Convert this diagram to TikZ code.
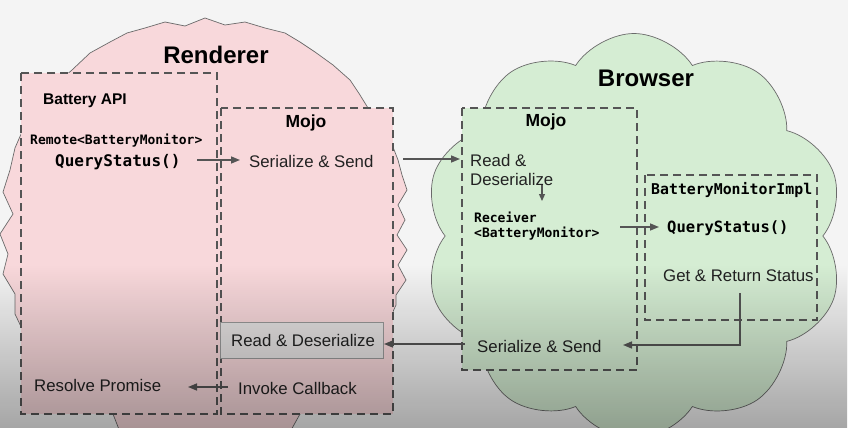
\documentclass[tikz,border=0pt]{standalone}
\usepackage{fontspec}
\usepackage{graphicx}
\setmainfont{Liberation Sans}
\setmonofont{DejaVu Sans Mono}
\usetikzlibrary{shapes.symbols,fadings,arrows.meta}
\definecolor{pinkfill}{HTML}{F8D8DB}
\definecolor{greenfill}{HTML}{D5EDD3}
\definecolor{edgegray}{HTML}{6A6A6A}
\definecolor{dashgray}{HTML}{555555}
\definecolor{txt}{HTML}{222222}
\definecolor{boxgray}{HTML}{E6E3E3}
\definecolor{boxedge}{HTML}{999999}
\definecolor{bgcol}{HTML}{F4F4F4}
\tikzset{
  regionbox/.style={draw=dashgray, line width=1.6pt, dash pattern=on 8pt off 5pt},
  flow/.style={draw=dashgray, line width=1.5pt, -{Triangle[length=9pt,width=7pt]}},
  title/.style={font=\fontsize{24}{28}\selectfont\bfseries, text=black, inner sep=0pt},
  head/.style={font=\fontsize{17.5}{20}\selectfont\bfseries, text=black, inner sep=0pt},
  plain/.style={font=\fontsize{16.8}{20}\selectfont, text=txt, inner sep=0pt, anchor=west},
  monos/.style={font=\fontsize{13}{15}\selectfont\ttfamily\bfseries, text=black, inner sep=0pt, anchor=west},
  monol/.style={font=\fontsize{15.5}{18}\selectfont\ttfamily\bfseries, text=black, inner sep=0pt, anchor=west},
}
\begin{document}
\begin{tikzpicture}[x=1pt,y=-1pt]
\useasboundingbox (0,0) rectangle (848,428);
\fill[bgcol] (0,0) rectangle (848,428);
% Renderer starburst
\fill[pinkfill, draw=edgegray, line width=0.7pt]
 (205,18) -- (225,25) -- (245,22) -- (265,28) -- (285,33) -- (300,42) -- (315,52) -- (333,65) -- (350,80)
 -- (360,95) -- (368,108) -- (378,122) -- (386,134) -- (393,147) -- (398,160) -- (402,175) -- (407,190)
 -- (398,205) -- (405,220) -- (397,235) -- (407,250) -- (398,265) -- (406,280) -- (396,295) -- (396,305)
 -- (380,340) -- (360,370) -- (330,398) -- (300,414) -- (290,432) -- (120,432) -- (113,414) -- (80,395)
 -- (50,370) -- (25,335) -- (15,314) -- (15,294) -- (3,274) -- (8,254) -- (0,234) -- (13,214) -- (3,192)
 -- (10,170) -- (15,148) -- (25,125) -- (40,100) -- (55,85) -- (72,70) -- (90,53) -- (110,42) -- (127,33)
 -- (145,28) -- (165,22) -- (185,26) -- cycle;
% Browser cloud
\node[cloud, cloud puffs=10, cloud puff arc=115, cloud ignores aspect, minimum width=420pt, minimum height=405pt,
  fill=greenfill, draw=edgegray, line width=0.7pt, inner sep=0pt] (cloudb) at (634,236) {};
\node[title] (rtitle) at (216,55) {Renderer};
\node[title] (btitle) at (646,78) {Browser};
% region boxes
\draw[regionbox, fill=pinkfill] (21,73) rectangle (217,414);
\draw[regionbox, fill=pinkfill] (221,108) rectangle (393,414);
\draw[regionbox, fill=greenfill] (462,108) rectangle (637,370);
\draw[regionbox, fill=greenfill] (645,175) rectangle (817,320);
\node[head] (rmojo) at (306,123) {Mojo};
\node[head] (bmojo) at (546,122) {Mojo};
\node[head, anchor=west, font=\fontsize{15.5}{18}\selectfont\bfseries] (api) at (43,101) {Battery API};
\node[monos] (remote) at (30,141) {Remote<BatteryMonitor>};
\node[monol, font=\fontsize{16}{18}\selectfont\ttfamily\bfseries] (rqs) at (55,162) {QueryStatus()};
\node[plain] (rsend) at (249,161) {Serialize \& Send};
\node[plain] (bread1) at (470,160) {Read \&};
\node[plain] (bread2) at (470,179) {Deserialize};
\node[monos] (recv1) at (474,217) {Receiver};
\node[monos] (recv2) at (474,234) {<BatteryMonitor>};
\node[monol] (impl) at (651,190) {\resizebox{161pt}{!}{BatteryMonitorImpl}};
\node[monol] (bqs) at (667,228) {QueryStatus()};
\node[plain] (getret) at (663,276) {Get \& Return Status};
\node[plain] (bsend) at (477,346) {Serialize \& Send};
\node[plain, anchor=center, draw=boxedge, fill=boxgray, minimum width=163pt, minimum height=36pt] (rread) at (302,340) {};
\node[plain] (rreadt) at (231,340) {Read \& Deserialize};
\node[plain] (invoke) at (238,388) {Invoke Callback};
\node[plain] (resolve) at (34,385) {Resolve Promise};
% connector endpoints
\coordinate (a1) at (197,160); \coordinate (a2) at (240,160);
\coordinate (b1) at (403,159); \coordinate (b2) at (460,159);
\coordinate (c1) at (542,185); \coordinate (c2) at (542,201);
\coordinate (d1) at (620,227); \coordinate (d2) at (659,227);
\coordinate (e1) at (740,293); \coordinate (e2) at (623,345);
\coordinate (f1) at (465,344); \coordinate (f2) at (384,344);
\coordinate (g1) at (228,387); \coordinate (g2) at (188,387);
\draw[flow] (a1) -- (a2);
\draw[flow] (b1) -- (b2);
\draw[flow, line width=1.2pt, -{Triangle[length=7pt,width=6pt]}] (c1) -- (c2);
\draw[flow] (d1) -- (d2);
\draw[flow] (e1) |- (e2);
\draw[flow] (f1) -- (f2);
\draw[flow] (g1) -- (g2);
% bottom darkening
\fill[black, path fading=north, fill opacity=0.32] (0,265) rectangle (848,428);
\end{tikzpicture}
\end{document}
